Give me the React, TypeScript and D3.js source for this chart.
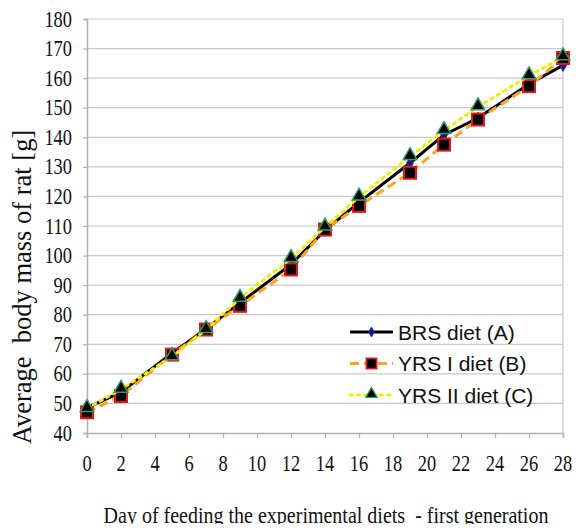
import { useEffect, useRef } from "react";
import * as d3 from "d3";

// Day of feeding (x) and average body mass per diet group (g)
const days = [0, 2, 5, 7, 9, 12, 14, 16, 19, 21, 23, 26, 28];
const brsA = [48.5, 53.8, 67, 75.2, 84, 97, 108.5, 118, 131.3, 140.8, 146.5, 158, 164.3];
const yrsB = [47, 52.5, 66.5, 75, 83, 95.3, 108.8, 116.8, 128, 137.5, 146, 157.3, 166.8];
const yrsC = [48.3, 54.8, 65.8, 75, 85.5, 99, 109.6, 119.8, 133.5, 142.3, 150.3, 160.8, 167.2];

const xTicks = d3.range(0, 29, 2);
const yTicks = d3.range(40, 181, 10);
const seriesNames = ["BRS diet (A)", "YRS I diet (B)", "YRS II diet (C)"];

export default function App() {
  const svgRef = useRef<SVGSVGElement | null>(null);

  useEffect(() => {
    const svgEl = svgRef.current;
    if (!svgEl) return;
    const root = d3.select(svgEl);
    root.selectAll("*").remove();

    const width = 582;
    const height = 532;
    const plot = { left: 87, right: 563, top: 19, bottom: 433 };

    const x = d3.scaleLinear().domain([0, 28]).range([plot.left, plot.right]);
    const y = d3.scaleLinear().domain([40, 180]).range([plot.bottom, plot.top]);

    const svg = root.attr("width", width).attr("height", height);
    svg.append("rect").attr("width", width).attr("height", height).attr("fill", "#fff");

    // horizontal grid
    svg
      .append("g")
      .selectAll("line")
      .data(yTicks.slice(1))
      .join("line")
      .attr("x1", plot.left)
      .attr("x2", plot.right)
      .attr("y1", (d) => y(d))
      .attr("y2", (d) => y(d))
      .attr("stroke", "#c8c8c8")
      .attr("stroke-width", 1.2);

    // right border
    svg
      .append("line")
      .attr("x1", plot.right)
      .attr("x2", plot.right)
      .attr("y1", plot.top)
      .attr("y2", plot.bottom)
      .attr("stroke", "#c8c8c8")
      .attr("stroke-width", 1.2);

    // axes (lines + ticks only, labels drawn below so they can be squeezed)
    const serif = "'Liberation Serif', 'Times New Roman', serif";
    const xAxis = svg
      .append("g")
      .attr("transform", `translate(0,${plot.bottom})`)
      .call(d3.axisBottom(x).tickValues(xTicks).tickSize(5).tickFormat(() => ""));
    const yAxis = svg
      .append("g")
      .attr("transform", `translate(${plot.left},0)`)
      .call(d3.axisLeft(y).tickValues(yTicks).tickSize(4).tickFormat(() => ""));
    [xAxis, yAxis].forEach((ax) => {
      ax.select(".domain").attr("stroke", "#b0b0b0").attr("stroke-width", 1.5);
      ax.selectAll(".tick line").attr("stroke", "#b0b0b0").attr("stroke-width", 1.2);
    });

    const squeeze = 0.8;
    svg
      .append("g")
      .selectAll("text")
      .data(xTicks)
      .join("text")
      .attr("transform", (d) => `translate(${x(d)},471) scale(${squeeze},1)`)
      .attr("text-anchor", "middle")
      .attr("font-family", serif)
      .attr("font-size", 23)
      .attr("fill", "#111")
      .text((d) => d);

    svg
      .append("g")
      .selectAll("text")
      .data(yTicks)
      .join("text")
      .attr("transform", (d) => `translate(72,${y(d) + 7.5}) scale(${squeeze},1)`)
      .attr("text-anchor", "end")
      .attr("font-family", serif)
      .attr("font-size", 23)
      .attr("fill", "#111")
      .text((d) => d);

    // axis titles
    svg
      .append("text")
      .attr("transform", "translate(326,523) scale(0.87,1)")
      .attr("text-anchor", "middle")
      .attr("font-family", serif)
      .attr("font-size", 23)
      .attr("fill", "#111")
      .attr("xml:space", "preserve")
      .text("Day of feeding the experimental diets  - first generation");

    svg
      .append("text")
      .attr("transform", `translate(31,287) rotate(-90)`)
      .attr("text-anchor", "middle")
      .attr("font-family", serif)
      .attr("font-size", 26.5)
      .attr("fill", "#111")
      .attr("xml:space", "preserve")
      .text("Average  body mass of rat [g]");

    const series = [
      { name: seriesNames[0], values: brsA, color: "#000", width: 3, dash: null as string | null, marker: "diamond" },
      { name: seriesNames[1], values: yrsB, color: "#FFA21F", width: 3, dash: "9,5", marker: "square" },
      { name: seriesNames[2], values: yrsC, color: "#EEF000", width: 3, dash: "2.5,5", marker: "triangle" },
    ];

    const line = d3
      .line<number>()
      .x((_, i) => x(days[i]))
      .y((d) => y(d));

    const drawMarker = (g: any, kind: string, cx: number, cy: number) => {
      if (kind === "diamond") {
        g.append("path")
          .attr("d", d3.symbol(d3.symbolDiamond, 40)())
          .attr("transform", `translate(${cx},${cy})`)
          .attr("fill", "#1a1a6e")
          .attr("stroke", "#2030c0")
          .attr("stroke-width", 1);
      } else if (kind === "square") {
        g.append("rect")
          .attr("x", cx - 6)
          .attr("y", cy - 6)
          .attr("width", 12)
          .attr("height", 12)
          .attr("fill", "#000")
          .attr("stroke", "#e8141c")
          .attr("stroke-width", 2);
      } else {
        g.append("path")
          .attr("d", d3.symbol(d3.symbolTriangle, 80)())
          .attr("transform", `translate(${cx},${cy - 1})`)
          .attr("fill", "#000")
          .attr("stroke", "#2f9a6a")
          .attr("stroke-width", 1.5);
      }
    };

    series.forEach((s) => {
      const g = svg.append("g");
      const p = g
        .append("path")
        .datum(s.values)
        .attr("fill", "none")
        .attr("stroke", s.color)
        .attr("stroke-width", s.width)
        .attr("stroke-linecap", s.marker === "triangle" ? "round" : "butt")
        .attr("d", line);
      if (s.dash) p.attr("stroke-dasharray", s.dash);
      s.values.forEach((v, i) => drawMarker(g, s.marker, x(days[i]), y(v)));
    });

    // legend
    const legend = svg.append("g").attr("transform", "translate(350,332)");
    series.forEach((s, i) => {
      const row = legend.append("g").attr("transform", `translate(0,${i * 31.5})`);
      const l = row
        .append("line")
        .attr("x1", 0)
        .attr("x2", 43)
        .attr("y1", 0)
        .attr("y2", 0)
        .attr("stroke", s.color)
        .attr("stroke-width", 3)
        .attr("stroke-linecap", s.marker === "triangle" ? "round" : "butt");
      if (s.dash) l.attr("stroke-dasharray", s.dash);
      const mk = row.append("g").attr("transform", `translate(21.5,0) scale(0.85)`);
      drawMarker(mk, s.marker, 0, 0);
      row
        .append("text")
        .attr("x", 48)
        .attr("y", 7.5)
        .attr("font-family", "'Liberation Sans', Arial, sans-serif")
        .attr("font-size", 21)
        .attr("fill", "#111")
        .text(s.name);
    });
  }, []);

  return (
    <div style={{ margin: -8 }}>
      <svg ref={svgRef} style={{ display: "block" }} />
    </div>
  );
}
